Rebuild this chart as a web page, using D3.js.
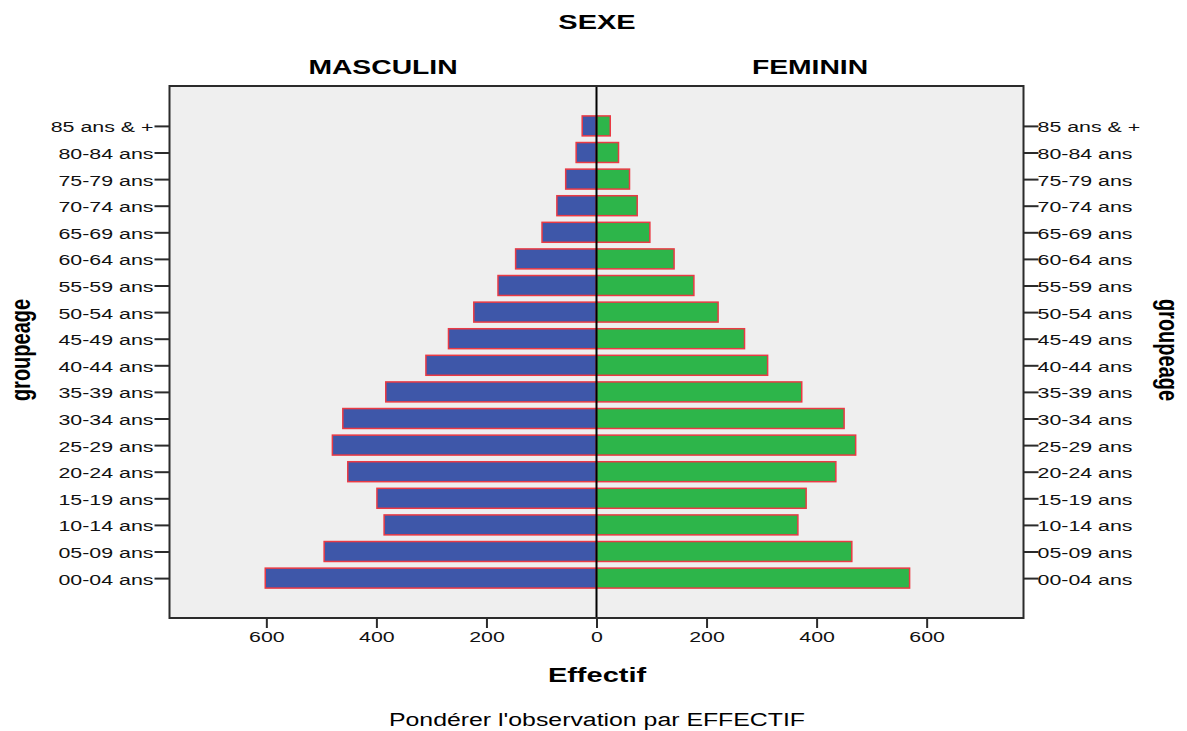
<!DOCTYPE html>
<html>
<head>
<meta charset="utf-8">
<script src="https://cdnjs.cloudflare.com/ajax/libs/d3/7.8.5/d3.min.js"></script>
<style>
  body { margin: 0; background: #ffffff; }
  svg { display: block; font-family: "Liberation Sans", Arial, sans-serif; }
</style>
</head>
<body>
<svg id="chart" width="1187" height="731"></svg>
<script>
// age groups, top to bottom
var ageGroups = ["85 ans & +", "80-84 ans", "75-79 ans", "70-74 ans", "65-69 ans", "60-64 ans",
    "55-59 ans", "50-54 ans", "45-49 ans", "40-44 ans", "35-39 ans", "30-34 ans",
    "25-29 ans", "20-24 ans", "15-19 ans", "10-14 ans", "05-09 ans", "00-04 ans"];

// effectif par sexe (same order as ageGroups)
var masculin = [26, 37, 56, 72, 99, 147, 179, 223, 269, 310, 383, 461, 480, 452, 399, 386, 495, 602];
var feminin  = [25, 40, 60, 74, 97, 141, 177, 221, 269, 311, 373, 450, 471, 435, 381, 366, 464, 569];

var xTicks = [-600, -400, -200, 0, 200, 400, 600];

var svg = d3.select("#chart");
var SX = 1.38; // the original picture is stretched horizontally

var margins = { top: 86, bottom: 113, left: 169.5, right: 163.5 };
var width = 1187 - margins.left - margins.right;
var height = 731 - margins.top - margins.bottom;

var x = d3.scaleLinear().domain([-776, 776]).range([0, width]);
var y = d3.scalePoint().domain(ageGroups).range([0, height]).padding(1.5);
var barH = y.step() * 0.75;

// helper: stretched text at a position
function label(px, py, txt, size, weight, rot) {
    var g = svg.append("g")
        .attr("transform", "translate(" + px + "," + py + ") scale(" + SX + ",1)" + (rot ? " rotate(" + rot + ")" : ""));
    g.append("text")
        .attr("text-anchor", "middle")
        .style("font-size", size + "px")
        .style("font-weight", weight)
        .attr("fill", "#000")
        .text(txt);
    return g;
}

var plot = svg.append("g").attr("transform", "translate(" + margins.left + "," + margins.top + ")");

// background
plot.append("rect")
    .attr("width", width)
    .attr("height", height)
    .attr("fill", "#efefef");

var rows = ageGroups.map(function (a, i) { return { age: a, m: masculin[i], f: feminin[i] }; });

// masculin bars (left)
plot.selectAll("rect.m").data(rows).enter().append("rect")
    .attr("class", "m")
    .attr("x", d => x(-d.m))
    .attr("y", d => y(d.age) - barH / 2)
    .attr("width", d => x(0) - x(-d.m))
    .attr("height", barH)
    .attr("fill", "#3e57a9")
    .attr("stroke", "#ea3a44")
    .attr("stroke-width", 1.5);

// feminin bars (right)
plot.selectAll("rect.f").data(rows).enter().append("rect")
    .attr("class", "f")
    .attr("x", x(0))
    .attr("y", d => y(d.age) - barH / 2)
    .attr("width", d => x(d.f) - x(0))
    .attr("height", barH)
    .attr("fill", "#2db54a")
    .attr("stroke", "#ea3a44")
    .attr("stroke-width", 1.5);

// zero line
plot.append("line")
    .attr("x1", x(0)).attr("x2", x(0))
    .attr("y1", 0).attr("y2", height)
    .attr("stroke", "#000")
    .attr("stroke-width", 2);

// frame
plot.append("rect")
    .attr("width", width)
    .attr("height", height)
    .attr("fill", "none")
    .attr("stroke", "#2b2b2b")
    .attr("stroke-width", 2);

// axes
var leftAxis = plot.append("g").call(d3.axisLeft(y).tickSize(15).tickSizeOuter(0));
var rightAxis = plot.append("g").attr("transform", "translate(" + width + ",0)")
    .call(d3.axisRight(y).tickSize(15).tickSizeOuter(0));
var bottomAxis = plot.append("g").attr("transform", "translate(0," + height + ")")
    .call(d3.axisBottom(x).tickValues(xTicks).tickFormat(d => Math.abs(d)).tickSize(10).tickSizeOuter(0));

[leftAxis, rightAxis, bottomAxis].forEach(function (a) {
    a.select(".domain").remove();
    a.selectAll(".tick line").attr("stroke", "#2b2b2b").attr("stroke-width", 2);
    a.selectAll(".tick text").style("font-size", "15.5px").attr("fill", "#111").style("font-family", "'Liberation Sans', Arial, sans-serif");
});
leftAxis.selectAll(".tick text").attr("x", 0).attr("transform", "translate(-16,1) scale(" + SX + ",1)");
rightAxis.selectAll(".tick text").attr("x", 0).attr("transform", "translate(14,1) scale(" + SX + ",1)");
bottomAxis.selectAll(".tick text").attr("y", 0).attr("transform", "translate(0,13) scale(" + SX + ",1)");

// titles
label(597, 29, "SEXE", 21, 700);
label(margins.left + x(-776) / 2 + x(0) / 2, 74, "MASCULIN", 20.5, 700);
label(margins.left + (x(0) + width) / 2, 74, "FEMININ", 20.5, 700);
label(597, 682, "Effectif", 21, 700);
label(597, 726, "Pondérer l'observation par EFFECTIF", 18, 400);
label(30, margins.top + height / 2 - 2, "groupeage", 20, 700, -90);
label(1159, margins.top + height / 2 - 2, "groupeage", 20, 700, 90);
</script>
</body>
</html>
